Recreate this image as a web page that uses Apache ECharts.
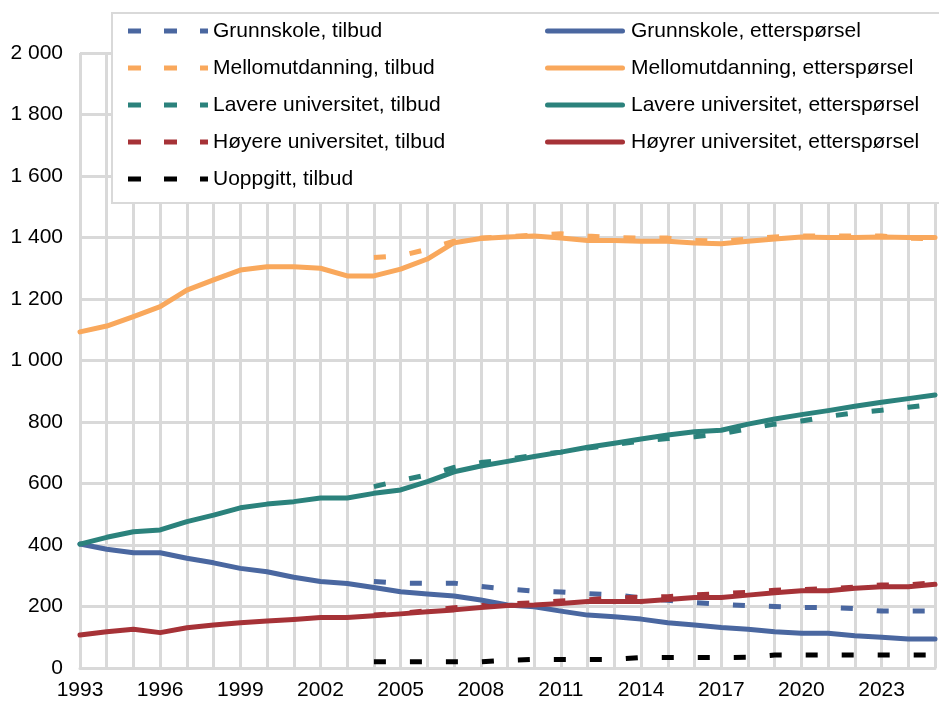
<!DOCTYPE html>
<html>
<head>
<meta charset="utf-8">
<script src="https://cdn.jsdelivr.net/npm/echarts@6/dist/echarts.min.js"></script>
<style>
  html, body { margin: 0; padding: 0; background: #fff; }
  #chart { width: 939px; height: 704px; }
</style>
</head>
<body>
<div id="chart"></div>
<script>
// år på x-aksen
var years = ['1993', '1994', '1995', '1996', '1997', '1998', '1999', '2000', '2001', '2002', '2003',
  '2004', '2005', '2006', '2007', '2008', '2009', '2010', '2011', '2012', '2013', '2014',
  '2015', '2016', '2017', '2018', '2019', '2020', '2021', '2022', '2023', '2024', '2025'];

// etterspørsel, 1993-2025
var grunnEtt = [403, 386, 375, 375, 357, 342, 324, 313, 295, 281, 275, 262, 248, 241, 234, 221, 205, 199, 185, 172, 167, 159, 147, 140, 132, 126, 118, 113, 113, 105, 100, 94, 94];
var mellomEtt = [1093, 1112, 1143, 1175, 1229, 1262, 1294, 1305, 1305, 1300, 1275, 1275, 1297, 1330, 1383, 1397, 1402, 1405, 1398, 1390, 1390, 1388, 1388, 1382, 1380, 1388, 1395, 1402, 1400, 1400, 1402, 1400, 1400];
var lavereEtt = [403, 425, 443, 449, 476, 497, 521, 533, 541, 553, 553, 568, 579, 606, 638, 657, 672, 688, 702, 718, 731, 745, 758, 768, 773, 793, 810, 824, 837, 851, 864, 876, 888];
var hoyereEtt = [107, 118, 126, 115, 131, 140, 147, 153, 158, 164, 164, 170, 176, 183, 189, 197, 203, 205, 210, 216, 216, 216, 223, 229, 229, 237, 245, 251, 251, 259, 264, 264, 272];

// tilbud, 2004-2025
var grunnTilb = [281, 276, 275, 276, 265, 257, 250, 247, 242, 238, 228, 220, 213, 207, 203, 200, 197, 197, 193, 185, 185, 185];
var mellomTilb = [1335, 1340, 1362, 1388, 1398, 1402, 1408, 1412, 1405, 1400, 1398, 1398, 1390, 1388, 1395, 1402, 1405, 1405, 1405, 1405, 1398, 1395];
var lavereTilb = [590, 610, 628, 652, 668, 678, 692, 702, 715, 727, 738, 746, 752, 762, 778, 793, 803, 818, 830, 838, 848, 858];
var hoyereTilb = [172, 178, 186, 196, 203, 208, 212, 218, 222, 228, 230, 232, 238, 242, 246, 253, 255, 258, 263, 270, 270, 278];
var uoppTilb = [20, 20, 20, 20, 20, 25, 28, 28, 28, 28, 34, 34, 34, 34, 35, 42, 42, 42, 42, 42, 42, 42];

// ingen tilbudsdata før 2004
var noData = [null, null, null, null, null, null, null, null, null, null, null];

var tilbNames = ['Grunnskole, tilbud', 'Mellomutdanning, tilbud', 'Lavere universitet, tilbud',
  'Høyere universitet, tilbud', 'Uoppgitt, tilbud'];
var ettNames = ['Grunnskole, etterspørsel', 'Mellomutdanning, etterspørsel',
  'Lavere universitet, etterspørsel', 'Høyrer universitet, etterspørsel'];

var cBlue = '#4a67a0';
var cOrange = '#f9a85c';
var cTeal = '#2b827c';
var cRed = '#a63237';
var cBlack = '#000000';
var font = '"Liberation Sans", Arial, sans-serif';

// ikoner i tegnforklaringen
var dashIcon = 'path://M0,0H13V5H0Z M36,0H49V5H36Z M72,0H80V5H72Z';
var solidIcon = 'path://M2.5,0H77.5A2.5,2.5,0,0,1,77.5,5H2.5A2.5,2.5,0,0,1,2.5,0Z';

function tilbud(name, color, vals) {
  return {
    name: name,
    type: 'line',
    symbol: 'none',
    data: noData.concat(vals),
    lineStyle: { color: color, width: 5, type: [12, 24], cap: 'butt' },
    itemStyle: { color: color },
    z: 2
  };
}

function ett(name, color, vals) {
  return {
    name: name,
    type: 'line',
    symbol: 'none',
    data: vals,
    lineStyle: { color: color, width: 5, cap: 'round', join: 'round' },
    itemStyle: { color: color },
    z: 3
  };
}

var chart = echarts.init(document.getElementById('chart'), null, { renderer: 'canvas' });

var legendText = { fontFamily: font, fontSize: 21, color: '#000', lineHeight: 22 };

var option = {
  animation: false,
  backgroundColor: '#fff',
  grid: { left: 80, right: 4, top: 53, bottom: 36 },
  graphic: [{
    type: 'rect',
    z: 5,
    shape: { x: 112, y: 13, width: 840, height: 190 },
    style: { fill: '#fff', stroke: '#d9d9d9', lineWidth: 2 }
  }],
  legend: [
    {
      orient: 'vertical',
      left: 123,
      top: 15,
      z: 10,
      itemWidth: 80,
      itemHeight: 5,
      itemGap: 15,
      textStyle: legendText,
      data: tilbNames.map(function (n) { return { name: n, icon: dashIcon }; })
    },
    {
      orient: 'vertical',
      left: 540,
      top: 15,
      z: 10,
      itemWidth: 82,
      itemHeight: 5,
      itemGap: 15,
      textStyle: legendText,
      data: ettNames.map(function (n) { return { name: n, icon: solidIcon }; })
    }
  ],
  xAxis: {
    type: 'category',
    boundaryGap: false,
    data: years,
    axisLine: { lineStyle: { color: '#d9d9d9', width: 3 } },
    axisTick: { show: false },
    axisLabel: { interval: 2, margin: 12, fontFamily: font, fontSize: 21, color: '#000' },
    splitLine: { show: true, interval: 0, lineStyle: { color: '#d9d9d9', width: 3 } }
  },
  yAxis: {
    type: 'value',
    min: 0,
    max: 2000,
    interval: 200,
    axisLine: { show: false },
    axisTick: { show: false },
    axisLabel: {
      margin: 17,
      fontFamily: font,
      fontSize: 21,
      color: '#000',
      formatter: function (v) {
        return String(v).replace(/\B(?=(\d{3})+(?!\d))/g, ' ');
      }
    },
    splitLine: { lineStyle: { color: '#d9d9d9', width: 3 } }
  },
  series: [
    tilbud(tilbNames[0], cBlue, grunnTilb),
    tilbud(tilbNames[1], cOrange, mellomTilb),
    tilbud(tilbNames[2], cTeal, lavereTilb),
    tilbud(tilbNames[3], cRed, hoyereTilb),
    tilbud(tilbNames[4], cBlack, uoppTilb),
    ett(ettNames[0], cBlue, grunnEtt),
    ett(ettNames[1], cOrange, mellomEtt),
    ett(ettNames[2], cTeal, lavereEtt),
    ett(ettNames[3], cRed, hoyereEtt)
  ]
};

chart.setOption(option);
</script>
</body>
</html>
